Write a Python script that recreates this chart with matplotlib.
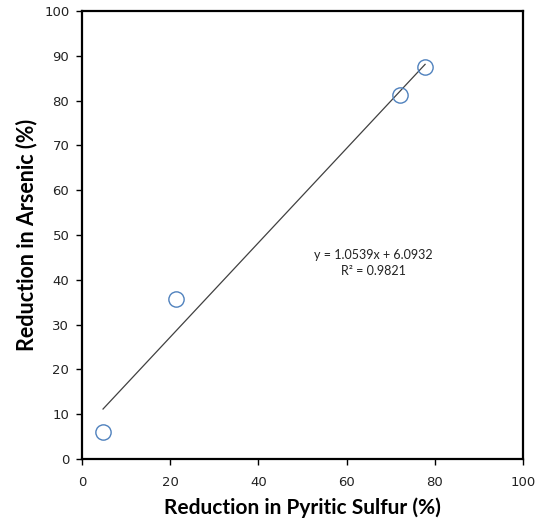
import numpy as np
import matplotlib.pyplot as plt

pyritic = [4.8, 21.3, 72.2, 77.8]
arsenic = [6.1, 35.7, 81.2, 87.5]
slope, intercept = 1.0539, 6.0932
xticks = [0, 20, 40, 60, 80, 100]
yticks = [0, 10, 20, 30, 40, 50, 60, 70, 80, 90, 100]

fig = plt.figure(figsize=(5.42, 5.23), dpi=100)
ax = fig.add_axes([0.151, 0.1224, 0.814, 0.8566])

xl = np.array([min(pyritic), max(pyritic)])
ax.plot(xl, slope * xl + intercept, color='#404040', lw=0.9)
ax.plot(pyritic, arsenic, 'o', ms=11, mfc='none', mec='#4F81BD', mew=1.0)

ax.text(66, 45.5, "y = 1.0539x + 6.0932", ha='center', va='center', fontsize=9, family='Lato', color='#222222')
ax.text(66, 42, "R\u00b2 = 0.9821", ha='center', va='center', fontsize=9, family='Lato', color='#222222')

ax.set_xlim(0, 100)
ax.set_ylim(0, 100)
ax.set_xticks(xticks)
ax.set_yticks(yticks)
ax.tick_params(direction='out', length=4, width=1, labelsize=9.5, colors='black', labelcolor='#222222')
ax.tick_params(axis='x', pad=8)
ax.tick_params(axis='y', pad=5)
for s in ax.spines.values():
    s.set_linewidth(1.6)
ax.set_xlabel("Reduction in Pyritic Sulfur (%)", fontsize=15, fontweight='bold', family='Lato', labelpad=6)
ax.set_ylabel("Reduction in Arsenic (%)", fontsize=15.5, fontweight='bold', family='Lato', labelpad=5)

plt.savefig("out.png", dpi=100)
